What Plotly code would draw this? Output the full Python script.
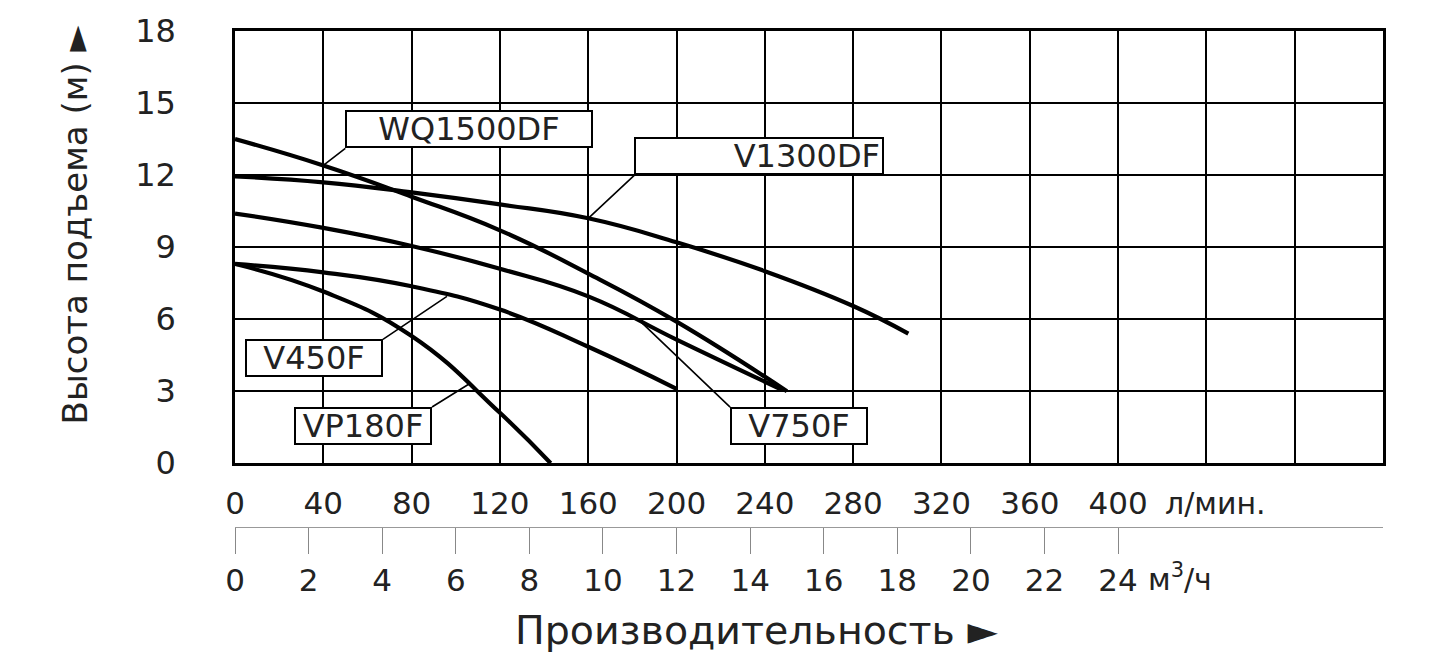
import plotly.graph_objects as go

# напорные характеристики насосов: расход (л/мин) и напор (м)
wq1500df_q = [0, 40, 80, 120, 160, 200, 250]
wq1500df_h = [13.5, 12.4, 11.1, 9.7, 7.9, 5.9, 3.0]

v1300df_q = [0, 40, 80, 120, 160, 200, 240, 280, 305]
v1300df_h = [11.95, 11.7, 11.28, 10.78, 10.2, 9.2, 8.0, 6.55, 5.4]

v750f_q = [0, 40, 80, 120, 160, 200, 248]
v750f_h = [10.4, 9.8, 9.05, 8.1, 6.95, 5.15, 3.05]

v450f_q = [0, 40, 80, 120, 160, 200]
v450f_h = [8.3, 7.95, 7.37, 6.4, 4.85, 3.1]

vp180f_q = [0, 40, 80, 120, 143]
vp180f_h = [8.3, 7.15, 5.3, 2.1, 0]

lmin_ticks = list(range(0, 401, 40))
m3h_ticks = list(range(0, 25, 2))
head_ticks = [0, 3, 6, 9, 12, 15, 18]

FONT = "DejaVu Sans, Liberation Sans, Arial, sans-serif"
TXT = "#222"

curves = [
    (wq1500df_q, wq1500df_h),
    (v1300df_q, v1300df_h),
    (v750f_q, v750f_h),
    (v450f_q, v450f_h),
    (vp180f_q, vp180f_h),
]

fig = go.Figure()
for q, h in curves:
    fig.add_trace(go.Scatter(x=q, y=h, mode="lines", showlegend=False,
                             line=dict(color="black", width=4.2, shape="spline", smoothing=1.3),
                             hoverinfo="skip"))

# пустая трасса, чтобы нарисовать вторую шкалу (м3/ч)
fig.add_trace(go.Scatter(x=[0, 31.2], y=[0, 0], xaxis="x2", yaxis="y2",
                         mode="lines", line=dict(width=0), showlegend=False,
                         hoverinfo="skip"))

# name, point on curve, tail offset, anchors, box width, text align
labels = [
    ("WQ1500DF", 40, 12.4, 22, -17, "left", "bottom", 240, "center"),
    ("V1300DF", 160, 10.2, 46, -43, "left", "bottom", 242, "right"),
    ("V450F", 96, 6.95, -64, 43, "right", "top", 130, "center"),
    ("VP180F", 106, 3.3, -37, 23, "right", "top", 130, "center"),
    ("V750F", 183.5, 5.92, 90, 86, "left", "top", 130, "center"),
]
for name, lx, ly, ax, ay, xanc, yanc, w, al in labels:
    fig.add_annotation(x=lx, y=ly, xref="x", yref="y", text=name,
                       showarrow=True, arrowhead=0, arrowwidth=1.6, arrowcolor="black",
                       ax=ax, ay=ay, xanchor=xanc, yanchor=yanc,
                       width=w, height=30, align=al,
                       bgcolor="white", bordercolor="black", borderwidth=2, borderpad=2,
                       font=dict(family=FONT, size=32, color=TXT))

fig.add_annotation(text="л/мин.", xref="paper", yref="paper", x=0.808, y=0.048,
                   xanchor="left", yanchor="middle", showarrow=False,
                   font=dict(family=FONT, size=30, color=TXT))
fig.add_annotation(text="м<sup>3</sup>/ч", xref="paper", yref="paper", x=0.7936, y=-0.102,
                   xanchor="left", yanchor="middle", showarrow=False,
                   font=dict(family=FONT, size=30, color=TXT))
fig.add_annotation(text="Производительность ►", xref="paper", yref="paper", x=0.4547, y=-0.207,
                   xanchor="center", yanchor="middle", showarrow=False,
                   font=dict(family=FONT, size=39.5, color=TXT))
fig.add_annotation(text="Высота подъема (м) ►", xref="paper", yref="paper", x=-0.1394, y=0.61,
                   xanchor="center", yanchor="middle", showarrow=False, textangle=-90,
                   font=dict(family=FONT, size=34, color=TXT))

fig.update_layout(
    width=1430, height=658,
    margin=dict(l=235, r=47, t=29, b=131),
    plot_bgcolor="white", paper_bgcolor="white",
    showlegend=False,
    xaxis=dict(range=[0, 520], tickvals=lmin_ticks,
               showgrid=True, gridcolor="black", gridwidth=2, zeroline=False,
               minor=dict(dtick=40, tick0=0, showgrid=True, gridcolor="black", gridwidth=2),
               showline=True, linecolor="black", linewidth=2.5, mirror=True,
               ticks="", ticklabelstandoff=11,
               tickfont=dict(family=FONT, size=31, color=TXT), anchor="y"),
    yaxis=dict(range=[0, 18], tickvals=head_ticks, domain=[0.1285, 1],
               showgrid=True, gridcolor="black", gridwidth=2, zeroline=False,
               showline=True, linecolor="black", linewidth=2.5, mirror=True,
               ticks="", ticklabelstandoff=50,
               tickfont=dict(family=FONT, size=32, color=TXT), anchor="x"),
    xaxis2=dict(range=[0, 31.2], tickvals=m3h_ticks, anchor="y2", side="bottom",
                showgrid=False, zeroline=False,
                showline=True, linecolor="#999", linewidth=1,
                ticks="outside", ticklen=26, tickcolor="#888", tickwidth=1,
                ticklabelstandoff=0,
                tickfont=dict(family=FONT, size=31, color=TXT)),
    yaxis2=dict(domain=[0, 0.02], visible=False, range=[0, 1]),
)

fig.write_html("out.html", config={"displayModeBar": False},
               post_script="document.body.style.margin='0';")
